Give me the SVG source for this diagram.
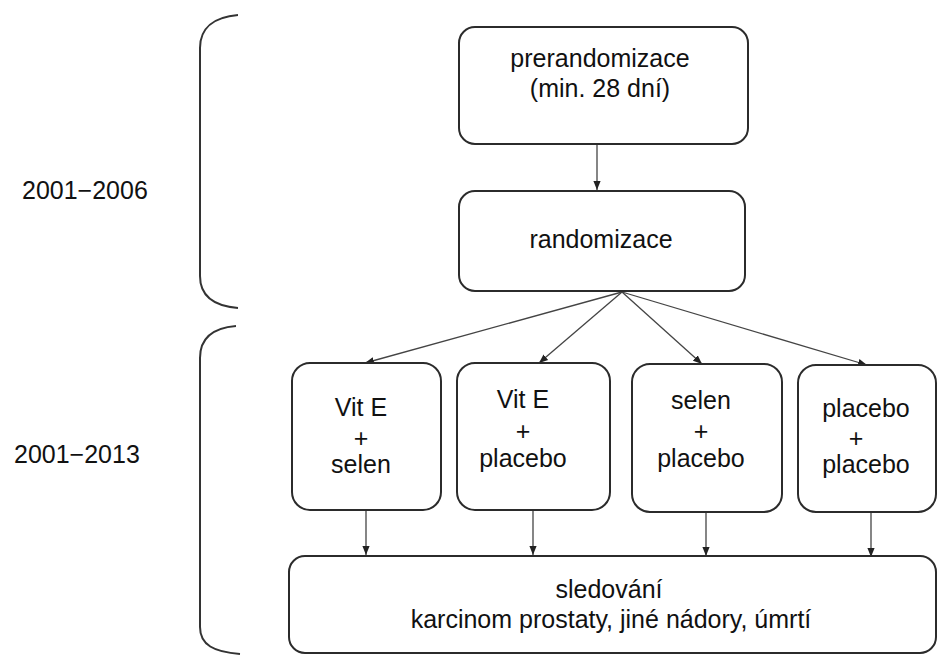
<svg xmlns="http://www.w3.org/2000/svg" width="937" height="655" viewBox="0 0 937 655">
<style>
.box{fill:#fff;stroke:#2b2b2b;stroke-width:2}
.t{font-family:"Liberation Sans",Arial,sans-serif;font-size:25px;fill:#111;text-anchor:middle}
.lbl{font-family:"Liberation Sans",Arial,sans-serif;font-size:25px;fill:#111}
.c{fill:none;stroke:#444;stroke-width:1.3}
.br{fill:none;stroke:#333;stroke-width:2}
</style>
<defs>
<marker id="ah" viewBox="0 0 10 10" refX="10" refY="5" markerWidth="9" markerHeight="9" markerUnits="userSpaceOnUse" orient="auto">
<path d="M0,1 L10,5 L0,9 z" fill="#222"/>
</marker>
</defs>
<rect width="937" height="655" fill="#fff"/>
<g id="braces">
<path class="br" d="M238,15 C214,17 200,28 200,48 L200,276 C200,296 214,306 238,308"/>
<path class="br" d="M236,326 C212,328 200,338 200,358 L200,627 C200,645 214,652 240,654"/>
</g>
<g id="label-2006"><text class="lbl" x="22" y="199">2001−2006</text></g>
<g id="label-2013"><text class="lbl" x="14" y="463">2001−2013</text></g>
<g id="connectors">
<path class="c" d="M597,144 L597,190" marker-end="url(#ah)"/>
<path class="c" d="M622,292 L365,363" marker-end="url(#ah)"/>
<path class="c" d="M622,292 L539,363" marker-end="url(#ah)"/>
<path class="c" d="M622,292 L702,364" marker-end="url(#ah)"/>
<path class="c" d="M622,292 L867,365" marker-end="url(#ah)"/>
<path class="c" d="M366,510 L366,555" marker-end="url(#ah)"/>
<path class="c" d="M533,510 L533,555" marker-end="url(#ah)"/>
<path class="c" d="M706,512 L706,556" marker-end="url(#ah)"/>
<path class="c" d="M871,512 L871,557" marker-end="url(#ah)"/>
</g>
<g id="prerandomizace">
<rect class="box" x="459" y="27" width="289" height="117" rx="16"/>
<text class="t" x="600" y="67">prerandomizace</text>
<text class="t" x="600" y="97">(min. 28 dní)</text>
</g>
<g id="randomizace">
<rect class="box" x="459" y="191" width="286" height="100" rx="16"/>
<text class="t" x="601" y="248">randomizace</text>
</g>
<g id="vitE-selen">
<rect class="box" x="292" y="363" width="149" height="147" rx="18"/>
<text class="t" x="361" y="416">Vit E</text>
<text class="t" x="361" y="447">+</text>
<text class="t" x="361" y="473">selen</text>
</g>
<g id="vitE-placebo">
<rect class="box" x="457" y="363" width="153" height="147" rx="18"/>
<text class="t" x="523" y="408">Vit E</text>
<text class="t" x="523" y="440">+</text>
<text class="t" x="523" y="467">placebo</text>
</g>
<g id="selen-placebo">
<rect class="box" x="632" y="364" width="150" height="148" rx="18"/>
<text class="t" x="701" y="409">selen</text>
<text class="t" x="701" y="440">+</text>
<text class="t" x="701" y="467">placebo</text>
</g>
<g id="placebo-placebo">
<rect class="box" x="798" y="365" width="138" height="147" rx="18"/>
<text class="t" x="866" y="417">placebo</text>
<text class="t" x="856" y="447">+</text>
<text class="t" x="866" y="473">placebo</text>
</g>
<g id="sledovani">
<rect class="box" x="289" y="556" width="647" height="97" rx="16"/>
<text class="t" x="609" y="598">sledování</text>
<text class="t" x="611" y="628">karcinom prostaty, jiné nádory, úmrtí</text>
</g>
</svg>
